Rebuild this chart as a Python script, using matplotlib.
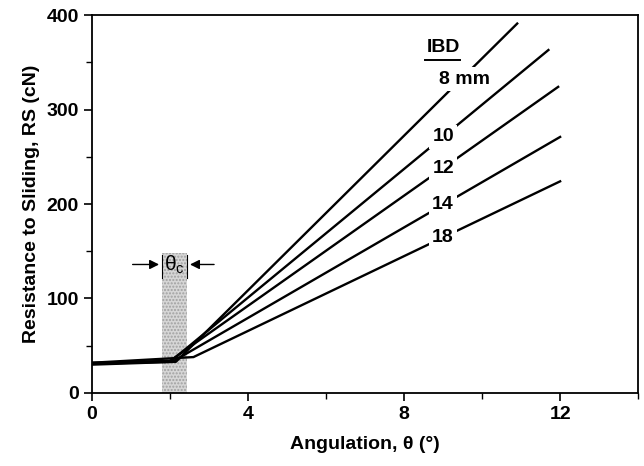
import matplotlib.pyplot as plt
from matplotlib.ticker import MultipleLocator

plt.rcParams['font.family'] = ['Liberation Sans', 'DejaVu Sans']
plt.rcParams['font.weight'] = 'bold'

# inter-bracket distance series: angulation (deg) vs resistance to sliding (cN)
ibd_labels = ['8 mm', '10', '12', '14', '18']
angle_8 = [0, 2.15, 10.9]
rs_8 = [30, 33, 391]
angle_10 = [0, 2.0, 11.7]
rs_10 = [31, 33, 363]
angle_12 = [0, 2.0, 11.95]
rs_12 = [31, 34, 324]
angle_14 = [0, 2.1, 12.0]
rs_14 = [32, 34, 271]
angle_18 = [0, 2.6, 12.0]
rs_18 = [32, 38, 224]

# critical angle band
theta_c_lo, theta_c_hi = 1.79, 2.44
band_top = 148

# label positions (angle, rs)
label_pos = [(9.56, 332), (9.0, 271), (9.0, 238), (9.0, 199), (9.0, 165)]

fig = plt.figure(figsize=(6.44, 4.66), dpi=100)
ax = fig.add_axes([0.1429, 0.1567, 0.848, 0.811])

ax.fill_between([theta_c_lo, theta_c_hi], 0, band_top, color='#d6d6d6',
                hatch='.....', edgecolor='#a0a0a0', linewidth=0, zorder=1)

for a, r in [(angle_8, rs_8), (angle_10, rs_10), (angle_12, rs_12),
             (angle_14, rs_14), (angle_18, rs_18)]:
    ax.plot(a, r, color='black', linewidth=1.7, zorder=2)

for lab, (x, y) in zip(ibd_labels, label_pos):
    ax.text(x, y, lab, fontsize=14, fontweight='bold', ha='center', va='center',
            bbox=dict(facecolor='white', edgecolor='none', pad=2.5), zorder=3)

ax.text(9.0, 366, 'IBD', fontsize=14, fontweight='bold', ha='center', va='center')
ax.plot([8.54, 9.44], [352, 352], color='black', linewidth=1.4)

# theta_c marker with arrows
ax.annotate('', xy=(theta_c_lo, 136), xytext=(0.97, 136),
            arrowprops=dict(arrowstyle='-|>', color='black', lw=1.0, mutation_scale=14))
ax.annotate('', xy=(theta_c_hi, 136), xytext=(3.2, 136),
            arrowprops=dict(arrowstyle='-|>', color='black', lw=1.0, mutation_scale=14))
ax.plot([theta_c_lo, theta_c_lo], [122, 146], color='black', linewidth=0.8)
ax.plot([theta_c_hi, theta_c_hi], [122, 146], color='black', linewidth=0.8)
ax.text((theta_c_lo + theta_c_hi) / 2, 136, 'θ$_\\mathregular{c}$', fontsize=15,
        fontweight='normal', ha='center', va='center')

ax.set_xlim(0, 14)
ax.set_ylim(0, 400)
ax.xaxis.set_major_locator(MultipleLocator(4))
ax.xaxis.set_minor_locator(MultipleLocator(2))
ax.yaxis.set_major_locator(MultipleLocator(100))
ax.yaxis.set_minor_locator(MultipleLocator(50))
ax.set_xticks([0, 4, 8, 12])
ax.tick_params(which='major', length=6, width=1.2, labelsize=14, direction='out')
ax.tick_params(which='minor', length=4, width=1.0, direction='out')
for s in ax.spines.values():
    s.set_linewidth(1.3)

ax.set_xlabel('Angulation, θ (°)', fontsize=14, fontweight='bold', labelpad=9)
ax.set_ylabel('Resistance to Sliding, RS (cN)', fontsize=14, fontweight='bold', labelpad=5)

fig.savefig('out.png', dpi=100)
